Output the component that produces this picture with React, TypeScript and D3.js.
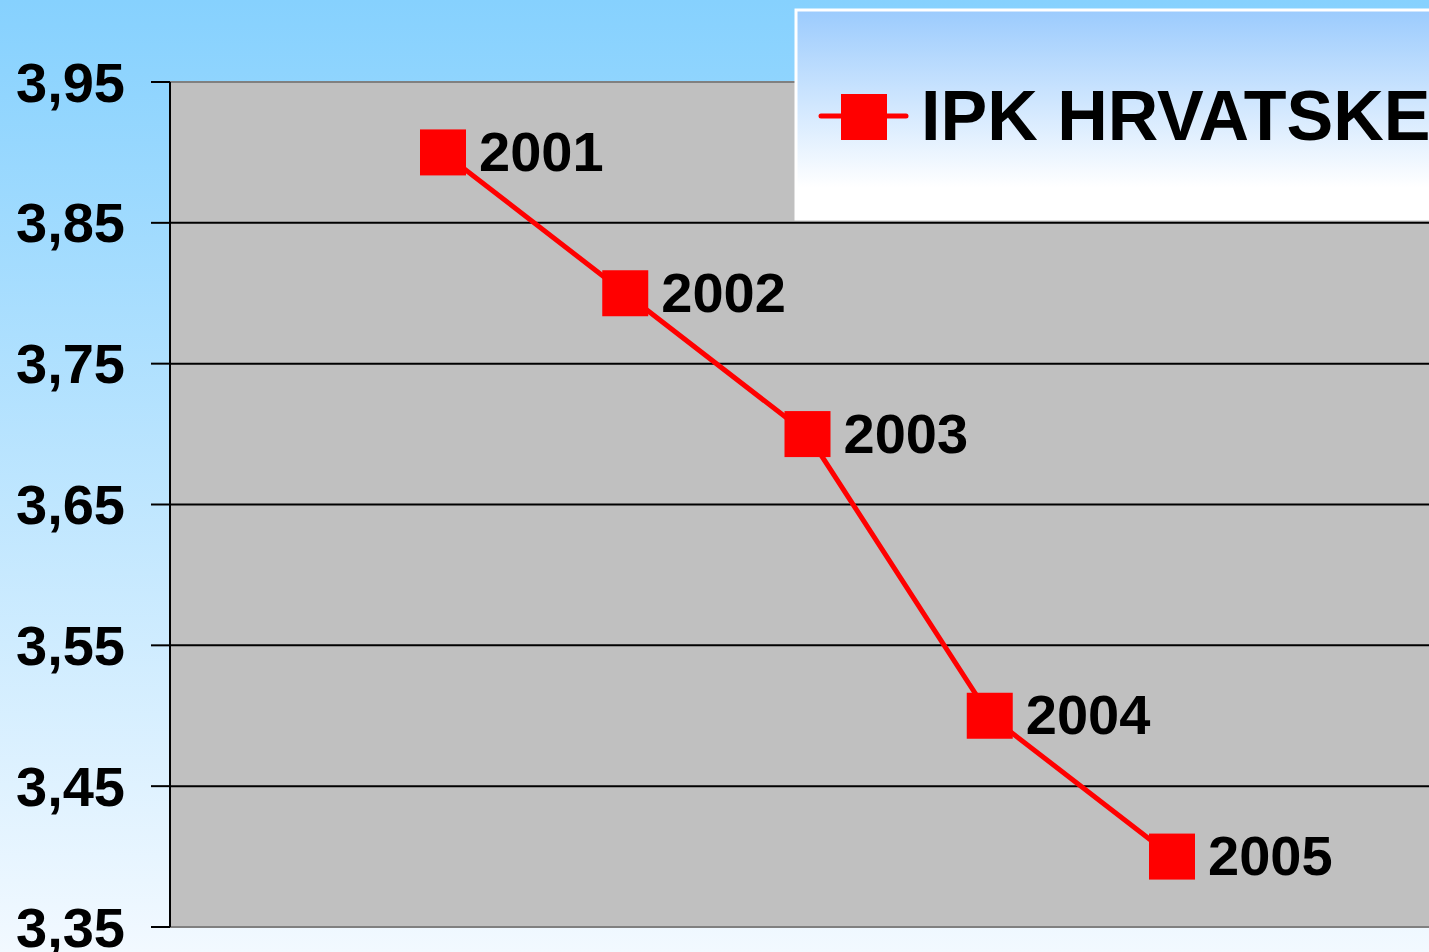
import { useEffect, useRef } from "react";
import * as d3 from "d3";

// Data
const years: number[] = [2001, 2002, 2003, 2004, 2005];
const ipkValues: number[] = [3.9, 3.8, 3.7, 3.5, 3.4];
const yTicks: number[] = [3.35, 3.45, 3.55, 3.65, 3.75, 3.85, 3.95];
const seriesName = "IPK HRVATSKE";

const width = 1429;
const height = 952;
const font = "'Liberation Sans', Arial, sans-serif";

const App = () => {
  const ref = useRef<SVGSVGElement | null>(null);

  useEffect(() => {
    const svg = d3.select(ref.current);
    svg.selectAll("*").remove();

    const plot = { left: 170, right: 1429, top: 82, bottom: 927 };

    const x = d3.scaleLinear().domain([2001, 2005]).range([443, 1172]);
    const y = d3.scaleLinear().domain([3.35, 3.95]).range([plot.bottom, plot.top]);

    // Gradients
    const defs = svg.append("defs");
    const bg = defs
      .append("linearGradient")
      .attr("id", "bg")
      .attr("x1", 0)
      .attr("y1", 0)
      .attr("x2", 0)
      .attr("y2", 1);
    bg.append("stop").attr("offset", "0%").attr("stop-color", "#86d1fe");
    bg.append("stop").attr("offset", "100%").attr("stop-color", "#f2f9ff");

    const lg = defs
      .append("linearGradient")
      .attr("id", "legendBg")
      .attr("x1", 0)
      .attr("y1", 0)
      .attr("x2", 0)
      .attr("y2", 1);
    lg.append("stop").attr("offset", "0%").attr("stop-color", "#9bcbfd");
    lg.append("stop").attr("offset", "85%").attr("stop-color", "#ffffff");
    lg.append("stop").attr("offset", "100%").attr("stop-color", "#ffffff");

    svg.append("rect").attr("width", width).attr("height", height).attr("fill", "url(#bg)");

    // Plot area
    svg
      .append("rect")
      .attr("x", plot.left)
      .attr("y", plot.top)
      .attr("width", plot.right - plot.left + 10)
      .attr("height", plot.bottom - plot.top)
      .attr("fill", "#c0c0c0")
      .attr("stroke", "#808080")
      .attr("stroke-width", 2);

    // Gridlines
    svg
      .append("g")
      .selectAll("line")
      .data(yTicks.slice(1, -1))
      .join("line")
      .attr("x1", plot.left)
      .attr("x2", plot.right + 10)
      .attr("y1", (d) => y(d))
      .attr("y2", (d) => y(d))
      .attr("stroke", "#000")
      .attr("stroke-width", 2);

    // Y axis
    const yAxis = svg.append("g");
    yAxis
      .append("line")
      .attr("x1", plot.left)
      .attr("x2", plot.left)
      .attr("y1", plot.top)
      .attr("y2", plot.bottom)
      .attr("stroke", "#000")
      .attr("stroke-width", 2);
    yAxis
      .selectAll("line.tick")
      .data(yTicks)
      .join("line")
      .attr("class", "tick")
      .attr("x1", plot.left - 19)
      .attr("x2", plot.left)
      .attr("y1", (d) => y(d))
      .attr("y2", (d) => y(d))
      .attr("stroke", "#000")
      .attr("stroke-width", 2);
    yAxis
      .selectAll("text")
      .data(yTicks)
      .join("text")
      .attr("x", 125)
      .attr("y", (d) => y(d))
      .attr("dy", "0.35em")
      .attr("text-anchor", "end")
      .attr("font-family", font)
      .attr("font-weight", "bold")
      .attr("font-size", 56)
      .attr("fill", "#000")
      .text((d) => d3.format(".2f")(d).replace(".", ","));

    // Line
    const line = d3
      .line<number>()
      .x((_, i) => x(years[i]))
      .y((d) => y(d));
    svg
      .append("path")
      .datum(ipkValues)
      .attr("d", line)
      .attr("fill", "none")
      .attr("stroke", "#ff0000")
      .attr("stroke-width", 5);

    const ms = 46;
    svg
      .append("g")
      .selectAll("rect")
      .data(ipkValues)
      .join("rect")
      .attr("x", (_, i) => x(years[i]) - ms / 2)
      .attr("y", (d) => y(d) - ms / 2)
      .attr("width", ms)
      .attr("height", ms)
      .attr("fill", "#ff0000");

    svg
      .append("g")
      .selectAll("text")
      .data(ipkValues)
      .join("text")
      .attr("x", (_, i) => x(years[i]) + 36)
      .attr("y", (d) => y(d))
      .attr("dy", "0.33em")
      .attr("font-family", font)
      .attr("font-weight", "bold")
      .attr("font-size", 56)
      .attr("fill", "#000")
      .text((_, i) => String(years[i]));

    // Legend
    const legend = svg.append("g");
    legend
      .append("rect")
      .attr("x", 796)
      .attr("y", 10)
      .attr("width", 700)
      .attr("height", 209)
      .attr("fill", "url(#legendBg)")
      .attr("stroke", "#ffffff")
      .attr("stroke-width", 3);
    legend
      .append("line")
      .attr("x1", 821)
      .attr("x2", 906)
      .attr("y1", 116)
      .attr("y2", 116)
      .attr("stroke", "#ff0000")
      .attr("stroke-width", 5)
      .attr("stroke-linecap", "round");
    legend
      .append("rect")
      .attr("x", 841)
      .attr("y", 94)
      .attr("width", ms)
      .attr("height", ms)
      .attr("fill", "#ff0000");
    legend
      .append("text")
      .attr("x", 921)
      .attr("y", 140)
      .attr("font-family", font)
      .attr("font-weight", "bold")
      .attr("font-size", 70)
      .attr("fill", "#000")
      .text(seriesName);
  }, []);

  return (
    <svg
      ref={ref}
      width={width}
      height={height}
      style={{ position: "absolute", top: 0, left: 0, display: "block" }}
    />
  );
};

export default App;
